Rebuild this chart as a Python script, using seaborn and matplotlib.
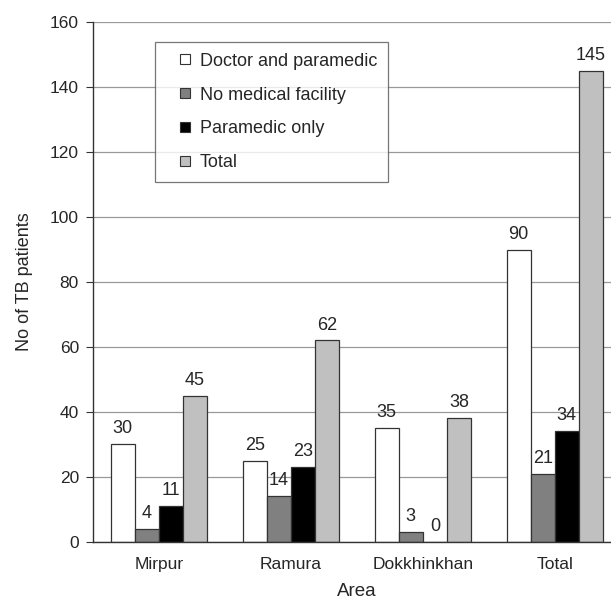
import pandas as pd
import numpy as np
import matplotlib.pyplot as plt
import seaborn as sns
from matplotlib.lines import Line2D

# data
areas = ["Mirpur", "Ramura", "Dokkhinkhan", "Total"]
series = ["Doctor and paramedic", "No medical facility", "Paramedic only", "Total"]
doctor_paramedic = [30, 25, 35, 90]
no_facility = [4, 14, 3, 21]
paramedic_only = [11, 23, 0, 34]
total = [45, 62, 38, 145]
colors = ["#ffffff", "#808080", "#000000", "#c0c0c0"]

df = pd.DataFrame({
    "Area": areas * 4,
    "Group": np.repeat(series, 4),
    "Value": doctor_paramedic + no_facility + paramedic_only + total,
})

sns.set_style("white")
plt.rcParams['font.family'] = ['Liberation Sans', 'DejaVu Sans']

fig = plt.figure(figsize=(6.11, 6.0), dpi=100)
ax = fig.add_axes([0.152, 0.097, 0.864, 0.866])

sns.barplot(data=df, x="Area", y="Value", hue="Group", hue_order=series,
            palette=colors, width=0.73, gap=0, edgecolor="#333333",
            linewidth=0.9, saturation=1, ax=ax, legend=False)

for c in ax.containers:
    ax.bar_label(c, padding=5, fontsize=13)

ax.set_ylim(0, 160)
ax.set_xlim(-0.5, 3.5)
ax.set_yticks(range(0, 161, 20))
ax.yaxis.grid(True, color="#999999", linewidth=0.9)
ax.set_axisbelow(True)

ax.set_xticks([0.5, 1.5, 2.5], minor=True)
ax.tick_params(axis="x", which="major", length=0, labelsize=12.5, pad=11)
ax.tick_params(axis="x", which="minor", length=5, color="#333333", direction="out")
ax.tick_params(axis="y", length=5, color="#333333", direction="out", labelsize=12.5,
               left=True, pad=5)

for s in ["top", "right"]:
    ax.spines[s].set_visible(False)
for s in ["left", "bottom"]:
    ax.spines[s].set_color("#333333")
    ax.spines[s].set_linewidth(1.0)

ax.set_xlabel("Area", fontsize=13.5, labelpad=8)
ax.set_ylabel("No of TB patients", fontsize=13, labelpad=12)

handles = [Line2D([], [], linestyle="none", marker="s", markersize=7.2,
                  markerfacecolor=col, markeredgecolor="#333333", markeredgewidth=0.8)
           for col in colors]
leg = ax.legend(handles, series, loc="upper left", bbox_to_anchor=(0.117, 0.962),
                borderaxespad=0, fontsize=13, frameon=True, fancybox=False,
                handlelength=2.12, handletextpad=-0.23,
                labelspacing=0.93, borderpad=0.6)
leg.get_frame().set_edgecolor("#555555")
leg.get_frame().set_linewidth(0.9)

fig.savefig("out.png", dpi=100)
